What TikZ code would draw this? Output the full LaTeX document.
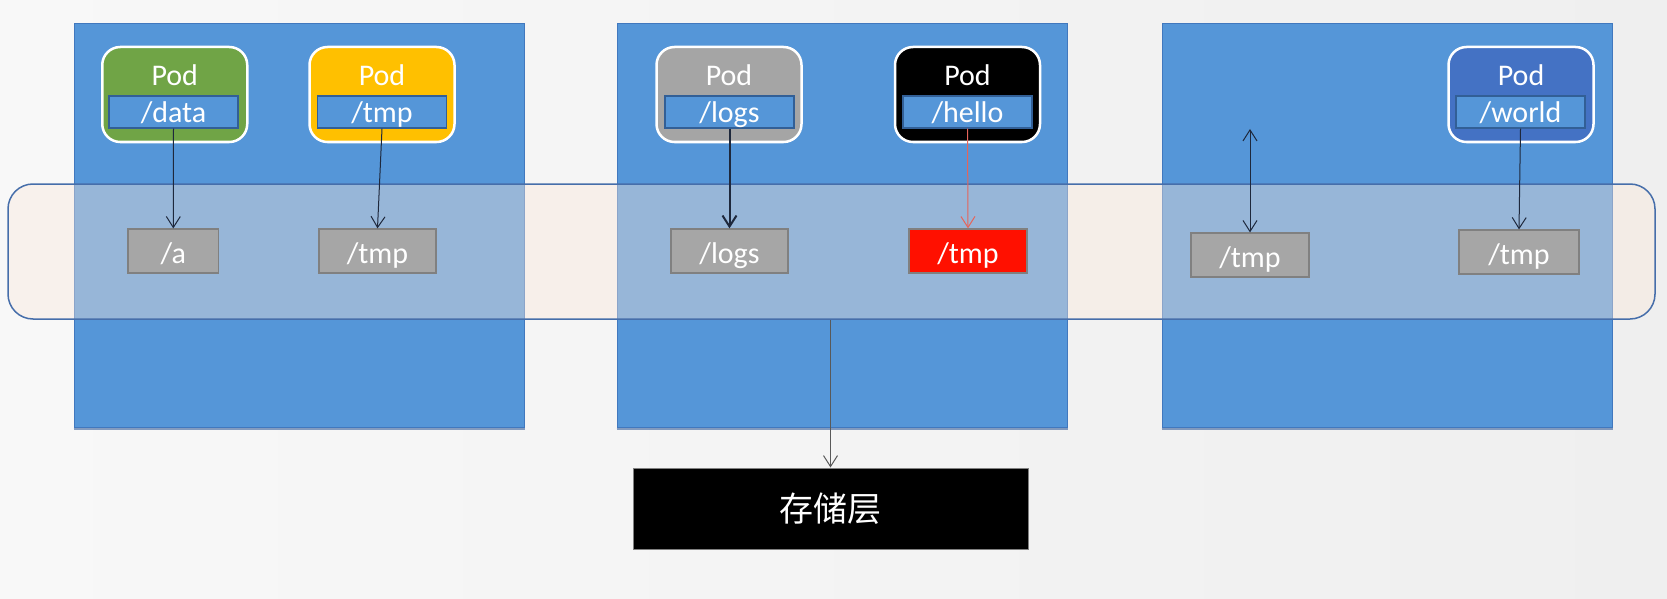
\documentclass[tikz,border=0pt]{standalone}
\usepackage{fontspec}
\setmainfont{Carlito}
\newfontfamily\cjk{Noto Sans CJK SC}
\usetikzlibrary{arrows.meta}
\definecolor{bgl}{RGB}{248,248,248}
\definecolor{bgr}{RGB}{239,239,239}
\definecolor{nodeblue}{RGB}{85,150,216}
\definecolor{nodeedge}{RGB}{65,120,190}
\definecolor{shadowblue}{RGB}{55,95,155}
\definecolor{bandfill}{RGB}{250,232,218}
\definecolor{bandedge}{RGB}{70,110,170}
\definecolor{podgreen}{RGB}{112,164,70}
\definecolor{podyellow}{RGB}{255,192,0}
\definecolor{podgray}{RGB}{165,165,165}
\definecolor{podblue}{RGB}{68,114,196}
\definecolor{inneredge}{RGB}{50,95,150}
\definecolor{dirgray}{RGB}{166,166,166}
\definecolor{diredge}{RGB}{128,128,128}
\definecolor{arrowc}{RGB}{30,40,60}
\definecolor{arrowred}{RGB}{230,100,90}
\definecolor{dirred}{RGB}{255,16,0}
\tikzset{
  bigfont/.style={font=\fontsize{30}{36}\selectfont},
  hostbox/.style={draw=nodeedge, line width=1pt, fill=nodeblue, minimum width=450pt, minimum height=403pt, inner sep=0pt},
  podbox/.style={draw=white, line width=2.5pt, rounded corners=18pt, minimum width=145pt, minimum height=95pt, inner sep=0pt},
  podlabel/.style={text=white, bigfont, inner sep=0pt, anchor=base},
  mountbox/.style={draw=inneredge, line width=1.2pt, fill=nodeblue, text=white, minimum width=129pt, minimum height=32pt, inner sep=0pt, bigfont, text height=24pt, text depth=2pt},
  dirbox/.style={draw=diredge, line width=1.2pt, fill=dirgray, text=white, minimum height=44pt, inner sep=0pt, bigfont, text height=26pt, text depth=2pt},
  link/.style={draw=arrowc, line width=1pt, -{Straight Barb[length=11pt,width=14pt]}},
  bottomshadow/.style={draw=shadowblue, line width=2pt, opacity=0.6},
}
\begin{document}
\begin{tikzpicture}[x=1pt,y=-1pt]
\useasboundingbox (0,0) rectangle (1667,599);
\shade[left color=bgl, right color=bgr] (0,0) rectangle (1667,599);
% hosts
\node[hostbox] (h1) at (299,225.5) {};
\node[hostbox] (h2) at (842,225.5) {};
\node[hostbox] (h3) at (1387,225.5) {};
\foreach \h in {h1,h2,h3}{
  \draw[bottomshadow] ([yshift=-1.5pt]\h.south west) -- ([yshift=-1.5pt]\h.south east);
}
% band
\node[draw=bandedge, line width=1.5pt, fill=bandfill, fill opacity=0.4, rounded corners=25pt, minimum width=1647pt, minimum height=135pt, inner sep=0pt] (band) at (831.5,251.5) {};
% pods
\node[podbox, fill=podgreen] (p1) at (174.75,94.5) {};
\node[podbox, fill=podyellow] (p2) at (382,94.5) {};
\node[podbox, fill=podgray] (p3) at (729,94.5) {};
\node[podbox, fill=black] (p4) at (967.5,94.5) {};
\node[podbox, fill=podblue] (p5) at (1521,94.5) {};
\node[podlabel] (t1) at (174.75,86) {Pod};
\node[podlabel] (t2) at (382,86) {Pod};
\node[podlabel] (t3) at (729,86) {Pod};
\node[podlabel] (t4) at (967.5,86) {Pod};
\node[podlabel] (t5) at (1521,86) {Pod};
\node[mountbox] (m1) at (173.5,112) {/data};
\node[mountbox] (m2) at (382,112) {/tmp};
\node[mountbox] (m3) at (729.5,112) {/logs};
\node[mountbox] (m4) at (967.5,112) {/hello};
\node[mountbox] (m5) at (1520.5,112) {/world};
% directories
\node[dirbox, minimum width=90.6pt] (g1) at (173.3,251) {/a};
\node[dirbox, minimum width=117pt] (g2) at (377.5,251) {/tmp};
\node[dirbox, minimum width=117pt] (g3) at (729.5,251) {/logs};
\node[dirbox, minimum width=118pt, fill=dirred] (g4) at (968,251) {/tmp};
\node[dirbox, minimum width=118pt] (g5) at (1250,255) {/tmp};
\node[dirbox, minimum width=120pt] (g6) at (1519,252) {/tmp};
% storage
\node[fill=black, draw=gray, line width=1pt, minimum width=395pt, minimum height=81pt, text=white, font=\cjk\fontsize{34}{40}\selectfont] (store) at (830.5,508.5) {存储层};
% connectors
\draw[link] (m1.south) -- (g1.north);
\draw[link] (m2.south) -- (g2.north);
\draw[link, line width=2pt] (m3.south) -- (g3.north);
\draw[link, draw=arrowred] (m4.south) -- (g4.north);
\draw[link] (m5.south) -- (g6.north);
\coordinate (free) at (1250,129);
\draw[link, {Straight Barb[length=11pt,width=14pt]}-{Straight Barb[length=11pt,width=14pt]}] (free) -- (g5.north);
\draw[link, draw=black!65] (band.south -| store.north) -- (store.north);
\end{tikzpicture}
\end{document}
